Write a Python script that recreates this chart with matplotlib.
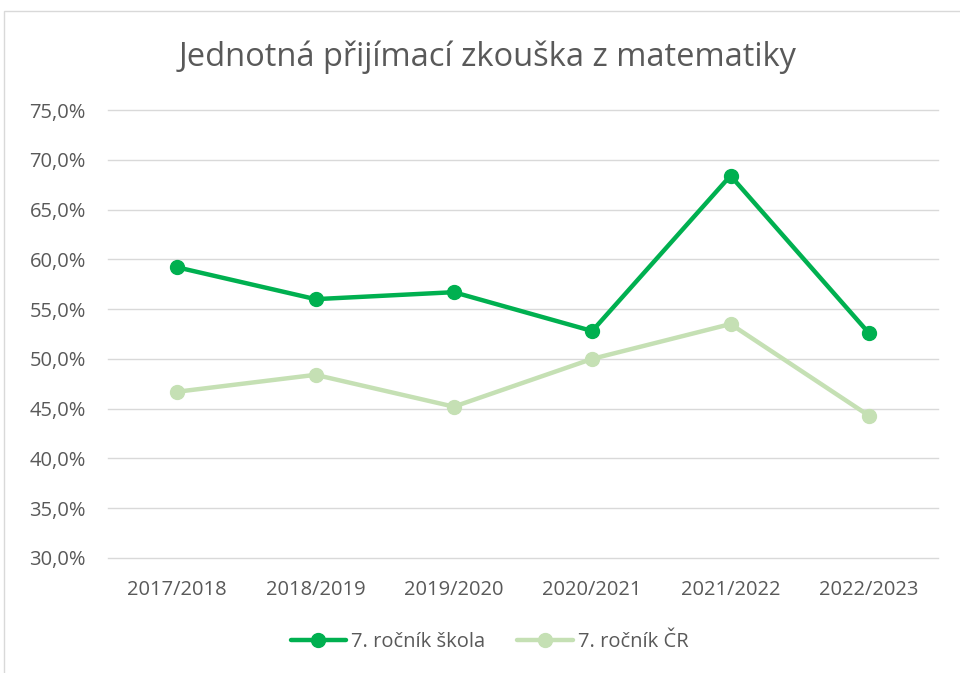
import matplotlib
matplotlib.use('Agg')
import matplotlib.pyplot as plt
from matplotlib.patches import Rectangle
from matplotlib.ticker import FuncFormatter

# ─── DATA ───
roky = ['2017/2018', '2018/2019', '2019/2020', '2020/2021', '2021/2022', '2022/2023']
skola = [59.2, 56.0, 56.7, 52.8, 68.4, 52.6]
cr = [46.7, 48.4, 45.2, 50.0, 53.5, 44.3]
nazvy = ['7. ročník škola', '7. ročník ČR']

C_SKOLA = '#00B050'
C_CR = '#C5E0B4'
C_TEXT = '#595959'

plt.rcParams['font.family'] = ['Open Sans', 'DejaVu Sans']

fig = plt.figure(figsize=(9.6, 6.73), dpi=100)
ax = fig.add_axes([108 / 960, 1 - 558 / 673, 830 / 960, 448 / 673])

# rámeček grafu (oříznutý vpravo a dole)
fig.patches.append(Rectangle((4 / 960, -0.1), 1.2, 1 - 11 / 673 + 0.1,
                             transform=fig.transFigure, fill=False,
                             edgecolor='#D9D9D9', lw=1.0))

x = list(range(len(roky)))
ax.plot(x, skola, color=C_SKOLA, lw=3.2, marker='o', ms=10, label=nazvy[0],
        solid_capstyle='round', zorder=3)
ax.plot(x, cr, color=C_CR, lw=3.2, marker='o', ms=10, label=nazvy[1],
        solid_capstyle='round', zorder=3)

ax.set_xlim(-0.5, len(roky) - 0.5)
ax.set_ylim(30, 75)
ax.set_yticks(range(30, 76, 5))
ax.yaxis.set_major_formatter(FuncFormatter(lambda v, p: f'{v:.1f}%'.replace('.', ',')))
ax.set_xticks(x)
ax.set_xticklabels(roky)
ax.grid(axis='y', color='#D9D9D9', lw=1.0)
for gl in ax.get_ygridlines():
    gl.set_clip_on(False)
ax.set_axisbelow(True)
for s in ax.spines.values():
    s.set_visible(False)
ax.tick_params(length=0, labelsize=14.5, colors=C_TEXT)
ax.tick_params(axis='y', pad=16)
ax.tick_params(axis='x', pad=16)

fig.text(488 / 960, 1 - 57 / 673, 'Jednotná přijímací zkouška z matematiky',
         ha='center', va='center', fontsize=23.5, color=C_TEXT)

fig.legend(loc='center', bbox_to_anchor=(0.51, 1 - 642 / 673), ncol=2,
           frameon=False, fontsize=14.5, labelcolor=C_TEXT,
           handlelength=2.75, columnspacing=1.6, handletextpad=0.25)

fig.savefig('out.png', dpi=100)
